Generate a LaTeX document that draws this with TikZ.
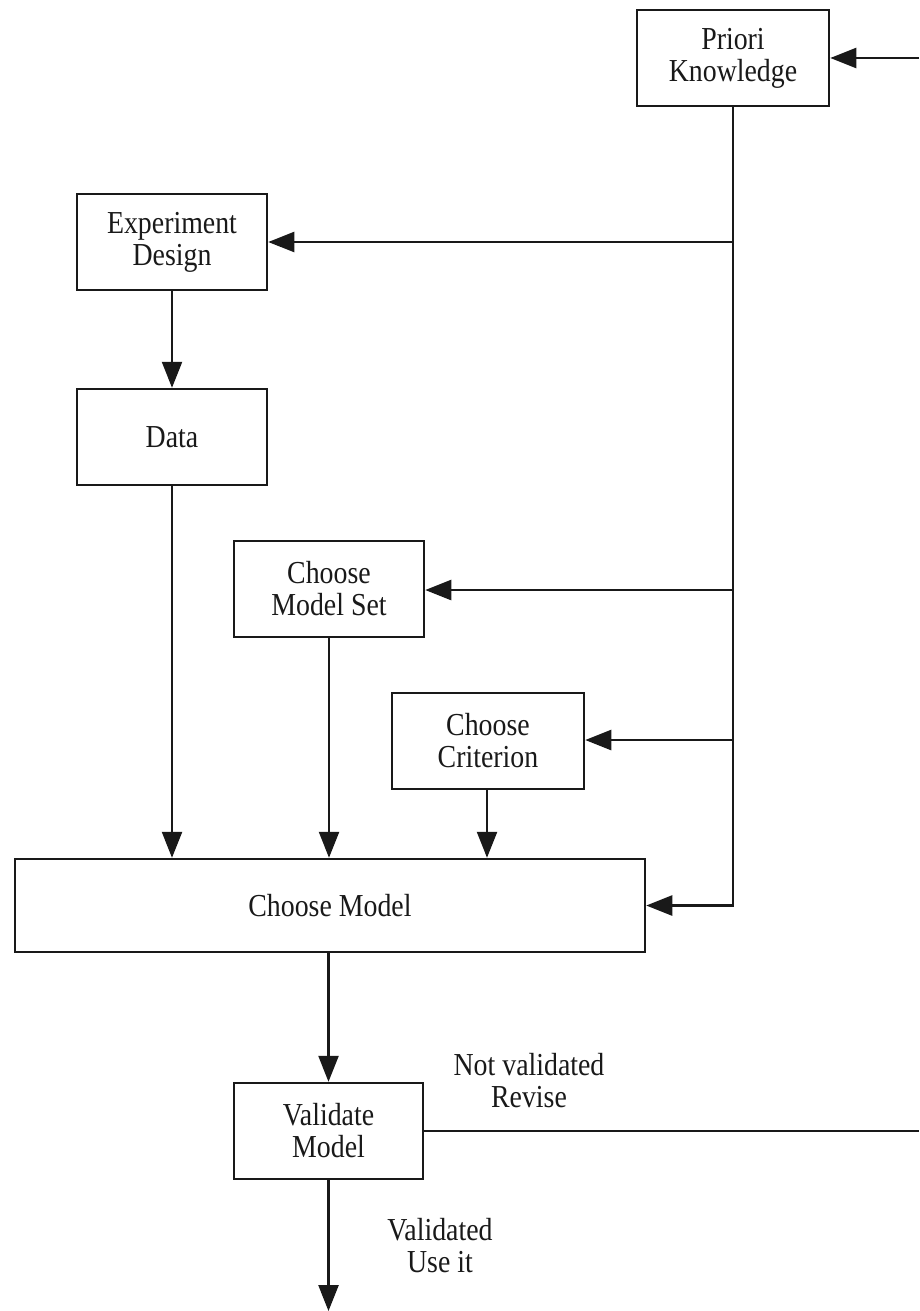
\documentclass[tikz,border=0pt]{standalone}
\usepackage{fontspec}
\setmainfont{Liberation Serif}[FakeStretch=0.87]
\usetikzlibrary{arrows.meta}

\begin{document}
\begin{tikzpicture}[x=1pt,y=-1pt,
  every node/.style={font=\fontsize{32}{32}\selectfont, text=black!90},
  block/.style={draw=black!90, line width=2.5pt, rectangle, inner sep=0pt,
                align=center, minimum width=190pt, minimum height=96pt},
  link/.style={draw=black!90, line width=2.5pt},
  arr/.style={link, -{Triangle[length=26pt,width=20pt]}},
  lbl/.style={align=center, inner sep=0pt}
]
\useasboundingbox (0,0) rectangle (919,1311);

% boxes
\node[block, minimum width=192pt] (prior) at (733,58)  {Priori\\Knowledge};
\node[block] (exp)   at (172,242)  {Experiment\\Design};
\node[block] (data)  at (172,437)  {Data};
\node[block] (mset)  at (329,589)  {Choose\\Model Set};
\node[block, minimum width=192pt] (crit) at (488,741) {Choose\\Criterion};
\node[block, minimum width=630pt, minimum height=93pt] (cm) at (330,905.5) {Choose Model};
\node[block, minimum width=189pt] (val) at (328.5,1131) {Validate\\Model};

% free ends at the border
\coordinate (feedin)  at (919,58);
\coordinate (feedout) at (919,1131);
\coordinate (useit)   at (328.5,1311);

% prior knowledge spine and its branches
\draw[arr] (feedin) -- (prior.east);
\draw[arr] (prior.south) |- (cm.east);
\draw[arr] (prior.south |- exp.east)  -- (exp.east);
\draw[arr] (prior.south |- 0,590)     -- (mset.east |- 0,590);
\draw[arr] (prior.south |- 0,740)     -- (crit.east |- 0,740);

% main flow
\draw[arr] (exp.south) -- (data.north);
\draw[arr] (data.south) -- (data.south |- cm.north);
\draw[arr] (mset.south) -- (mset.south |- cm.north);
\draw[arr] (crit.south -| 487,0) -- (487,0 |- cm.north);
\draw[arr] (val.north |- cm.south) -- (val.north);

% validation outcomes
\draw[link] (val.east) -- (feedout);
\draw[arr] (val.south) -- (useit);

\node[lbl] (notval) at (529,1081) {Not validated\\Revise};
\node[lbl] (valid)  at (440,1246) {Validated\\Use it};
\end{tikzpicture}
\end{document}
